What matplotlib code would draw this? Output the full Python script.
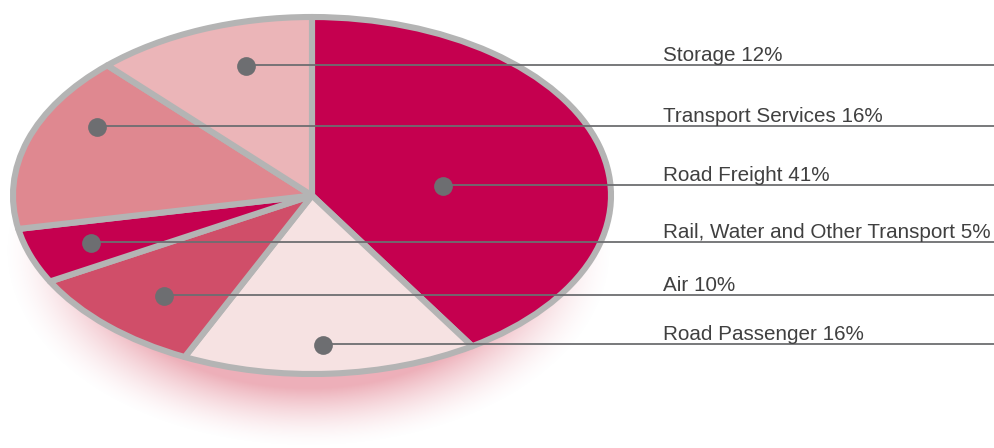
import numpy as np
import matplotlib
matplotlib.use("Agg")
import matplotlib.pyplot as plt

# data
categories = ["Road Freight", "Road Passenger", "Air",
              "Rail, Water and Other Transport", "Transport Services", "Storage"]
shares = [41, 16, 10, 5, 16, 12]
colors = ["#c5004f", "#f6e2e2", "#d04e69", "#c5004f", "#df8890", "#ebb5b8"]

# label order top to bottom on the right
label_order = [5, 4, 0, 3, 2, 1]

# layout (pixels, origin top-left)
W, H = 994, 448
cx, cy = 312, 195.5
rx, ry = 299, 178.5
dot_xy = {5: (246, 66), 4: (97, 127), 0: (443, 186),
          3: (91, 243), 2: (164, 296), 1: (323, 345)}
line_y = {5: 65, 4: 126.5, 0: 185, 3: 242, 2: 295, 1: 344}
text_x = 663
edge = "#b4b4b4"
grey = "#6d6e71"

fig = plt.figure(figsize=(W / 100, H / 100), dpi=100)

# soft pink shadow under the pie
sh = fig.add_axes([0, 0, 1, 1])
sh.set_xlim(0, W)
sh.set_ylim(H, 0)
sh.axis("off")
yy, xx = np.mgrid[0:H, 0:W]
d = np.sqrt(((xx - 308) / 305.0) ** 2 + ((yy - 250) / 197.0) ** 2)
a = np.clip((1.0 - d) / 0.3, 0, 1) ** 1.6 * 0.62
img = np.zeros((H, W, 4))
img[..., 0] = 0.89
img[..., 1] = 0.50
img[..., 2] = 0.56
img[..., 3] = a
sh.imshow(img, extent=(0, W, H, 0), interpolation="bilinear")

# pie drawn in a stretched axes so it becomes an ellipse
lim = 1.15
pw, ph = 2 * rx * lim, 2 * ry * lim
pax = fig.add_axes([(cx - rx * lim) / W, (H - cy - ry * lim) / H, pw / W, ph / H])
pax.pie(shares, colors=colors, startangle=90, counterclock=False,
        wedgeprops=dict(edgecolor=edge, linewidth=4.4, joinstyle="round"))
pax.set_aspect("auto")
pax.set_xlim(-lim, lim)
pax.set_ylim(-lim, lim)
pax.axis("off")

# leader lines, dots and labels
ov = fig.add_axes([0, 0, 1, 1])
ov.set_xlim(0, W)
ov.set_ylim(H, 0)
ov.axis("off")
ov.patch.set_alpha(0)
for i in label_order:
    x0, y0 = dot_xy[i]
    ly = line_y[i]
    ov.plot([x0, W], [ly, ly], color=grey, lw=1.3, solid_capstyle="butt")
    ov.plot([x0], [y0], "o", ms=13.5, color=grey, mec="none")
    ov.text(text_x, ly - 4, f"{categories[i]} {shares[i]}%", fontsize=14.9,
            family="Liberation Sans", color="#404040", va="baseline", ha="left")

fig.savefig("out.png", dpi=100)
